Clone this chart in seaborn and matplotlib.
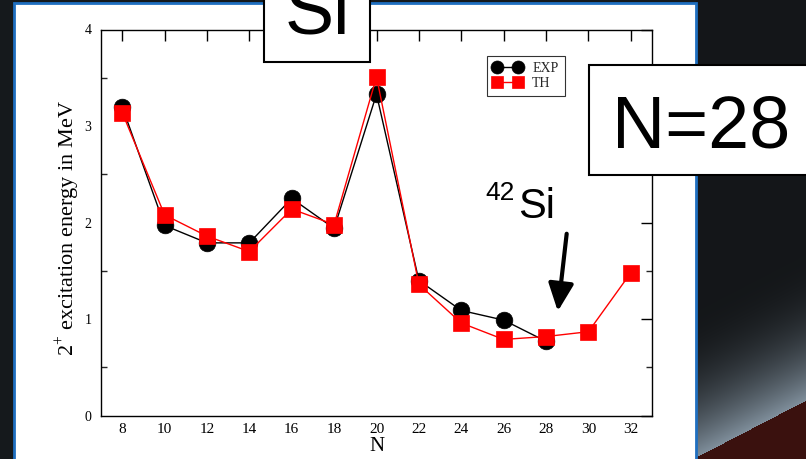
import numpy as np
import pandas as pd
import seaborn as sns
import matplotlib
matplotlib.use("Agg")
import matplotlib.pyplot as plt
from matplotlib.patches import Rectangle, FancyArrowPatch

# ---- data ----
N_exp = [8, 10, 12, 14, 16, 18, 20, 22, 24, 26, 28]
E_exp = [3.20, 1.97, 1.79, 1.79, 2.25, 1.94, 3.33, 1.40, 1.09, 0.99, 0.77]
N_th = [8, 10, 12, 14, 16, 18, 20, 22, 24, 26, 28, 30, 32]
E_th = [3.14, 2.08, 1.86, 1.70, 2.14, 1.98, 3.51, 1.36, 0.96, 0.79, 0.82, 0.87, 1.48]
x_ticks = [8, 10, 12, 14, 16, 18, 20, 22, 24, 26, 28, 30, 32]
y_ticks = [0, 1, 2, 3, 4]
series_labels = ["EXP", "TH"]

sns.set_theme(style="white")
plt.rcParams["font.family"] = ["Liberation Serif", "DejaVu Serif"]
plt.rcParams["mathtext.fontset"] = "custom"
plt.rcParams["mathtext.rm"] = "Liberation Serif"

W, H = 806, 459
fig = plt.figure(figsize=(W / 100, H / 100), dpi=100)
fig.patch.set_facecolor("#15191c")

# ---- slide background (right strip gradient) ----
bg = fig.add_axes([696 / W, 0, (W - 696) / W, 1], zorder=-5)
bw, bh = W - 696, H
yy, xx = np.mgrid[0:bh, 0:bw]
bound = 457 - (xx / bw) * 57
d = bound - yy
img = np.zeros((bh, bw, 3))
dark = np.array([0.08, 0.09, 0.10])
grey = np.array([0.50, 0.56, 0.61])
red = np.array([0.28, 0.06, 0.04])
t = np.clip(1 - d / 150.0, 0, 1) ** 2.2
img[:] = dark * (1 - t[..., None]) + grey * t[..., None]
img[d < 0] = red * 0.75 + dark * 0.25
bg.imshow(img, aspect="auto", extent=[0, bw, bh, 0])
bg.set_axis_off()

# ---- white panel with blue border ----
panel = Rectangle((14 / W, -0.01), (696 - 14) / W, (H - 3) / H + 0.01,
                  transform=fig.transFigure, facecolor="white",
                  edgecolor="#1f6fc0", linewidth=2, zorder=-4)
fig.patches.append(panel)

# ---- chart ----
ax = fig.add_axes([101 / W, 1 - 415.7 / H, (652 - 101) / W, (415.7 - 29.5) / H])
ax.set_facecolor("white")

sns.lineplot(x=N_exp, y=E_exp, ax=ax, color="black", linewidth=1.0,
             marker="o", markersize=12, markeredgecolor="black",
             markeredgewidth=0.5, label=series_labels[0])
sns.lineplot(x=N_th, y=E_th, ax=ax, color="red", linewidth=1.0,
             marker="s", markersize=11.5, markeredgecolor="red",
             markeredgewidth=0.5, label=series_labels[1])

ax.set_xlim(7, 33)
ax.set_ylim(0, 4)
ax.set_xticks(x_ticks)
ax.set_yticks(y_ticks)
ax.set_yticks([0.5, 1.5, 2.5, 3.5], minor=True)
ax.tick_params(axis="both", which="major", direction="in", length=8, width=1,
               top=True, right=True, colors="black")
ax.tick_params(axis="y", which="minor", direction="in", length=4, width=1,
               left=True, right=True)
ax.tick_params(axis="y", pad=7, labelsize=10)
ax.tick_params(axis="x", pad=5, labelsize=11)
for s in ax.spines.values():
    s.set_color("black")
    s.set_linewidth(1.0)

ax.set_xlabel("N", fontsize=15, labelpad=1, color="black")
ax.set_ylabel(r"2$^{+}$ excitation energy in MeV", fontsize=16, color="black")
ax.yaxis.set_label_coords((81 - 101) / 551, (415.7 - 228) / 386.2)

leg = ax.legend(loc="upper left", bbox_to_anchor=((487 - 101) / 551, (415.7 - 56) / 386.2),
                borderaxespad=0, numpoints=2, markerscale=0.78,
                handlelength=2.1, handletextpad=0.7, labelspacing=0.1,
                borderpad=0.45, fontsize=10, frameon=True, fancybox=False)
leg.get_frame().set_edgecolor("black")
leg.get_frame().set_linewidth(0.8)

# ---- slide annotations ----
sans = ["Liberation Sans", "DejaVu Sans"]
fig.patches.append(Rectangle((264 / W, 1 - 62 / H), 106 / W, 62 / H + 0.02,
                             transform=fig.transFigure, facecolor="white",
                             edgecolor="black", linewidth=1.5, zorder=5))
fig.text(317 / W, 1 - 34 / H, "Si", family=sans, fontsize=53, ha="center",
         va="baseline", color="black", zorder=6)

fig.patches.append(Rectangle((589 / W, 1 - 175 / H), (W - 589) / W + 0.01, 110 / H,
                             transform=fig.transFigure, facecolor="white",
                             edgecolor="black", linewidth=1.5, zorder=5))
fig.text(701 / W, 1 - 148 / H, "N=28", family=sans, fontsize=53, ha="center",
         va="baseline", color="black", zorder=6)

fig.text(485 / W, 1 - 200 / H, "42", family=sans, fontsize=19, ha="left",
         va="baseline", color="black")
fig.text(518 / W, 1 - 218 / H, "Si", family=sans, fontsize=30, ha="left",
         va="baseline", color="black")

fig.add_artist(FancyArrowPatch(
    (567 / W, 1 - 231 / H), (557.5 / W, 1 - 314 / H),
    transform=fig.transFigure, arrowstyle="-|>,head_length=1.2,head_width=0.55",
    mutation_scale=14, linewidth=3, color="black", zorder=6))

fig.savefig("out.png", dpi=100, facecolor=fig.get_facecolor())
